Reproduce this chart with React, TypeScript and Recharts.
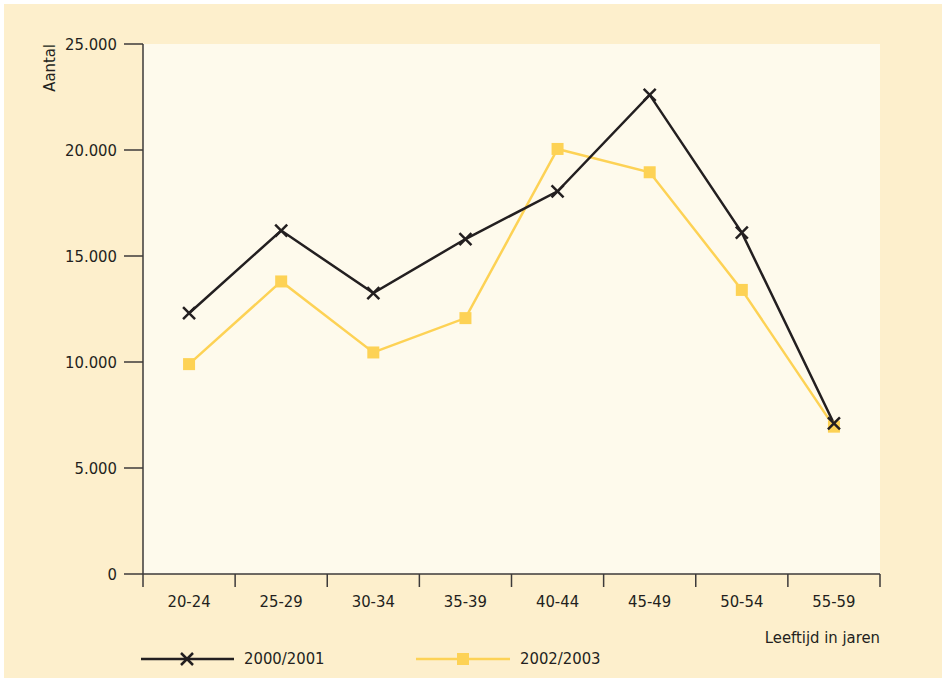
import { LineChart, Line, XAxis, YAxis, CartesianGrid } from 'recharts';

const ageGroups = ['20-24', '25-29', '30-34', '35-39', '40-44', '45-49', '50-54', '55-59'];
const series2000 = [12300, 16200, 13250, 15800, 18050, 22600, 16100, 7100];
const series2002 = [9900, 13800, 10450, 12070, 20050, 18950, 13400, 6950];
const yTicks = [0, 5000, 10000, 15000, 20000, 25000];

const NAME_A = '2000/2001';
const NAME_B = '2002/2003';
const BLACK = '#231f20';
const YELLOW = '#fdd255';
const AXIS = '#3d3a3a';
const FONT = '"DejaVu Sans Condensed", "Liberation Sans Narrow", sans-serif';
const FS = 16.5;

const W = 942;
const H = 678;
const PLOT_LEFT = 143;
const PLOT_RIGHT = 880;
const PLOT_TOP = 44;
const PLOT_BOTTOM = 574;
const BAND = (PLOT_RIGHT - PLOT_LEFT) / ageGroups.length;

const data = ageGroups.map((g, i) => ({ group: g, a: series2000[i], b: series2002[i] }));

const fmt = (v: number) => String(v).replace(/\B(?=(\d{3})+(?!\d))/g, '.');

function CrossDot(props: any) {
  const { cx, cy } = props;
  if (cx == null || cy == null) return null;
  const s = 6;
  return (
    <g stroke={BLACK} strokeWidth={2.5}>
      <line x1={cx - s} y1={cy - s} x2={cx + s} y2={cy + s} />
      <line x1={cx - s} y1={cy + s} x2={cx + s} y2={cy - s} />
    </g>
  );
}

function SquareDot(props: any) {
  const { cx, cy } = props;
  if (cx == null || cy == null) return null;
  return <rect x={cx - 6} y={cy - 6} width={12} height={12} fill={YELLOW} />;
}

function XTick(props: any) {
  const { x, y, payload, index } = props;
  const last = index === ageGroups.length - 1;
  return (
    <g>
      <line x1={x - BAND / 2} y1={y} x2={x - BAND / 2} y2={y + 13} stroke={AXIS} strokeWidth={1.5} />
      {last && <line x1={x + BAND / 2} y1={y} x2={x + BAND / 2} y2={y + 13} stroke={AXIS} strokeWidth={1.5} />}
      <text x={x} y={y + 27} textAnchor="middle" dominantBaseline="central" fill={BLACK} fontSize={FS} fontFamily={FONT}>
        {payload.value}
      </text>
      {last && (
        <text x={x + BAND / 2} y={y + 63} textAnchor="end" dominantBaseline="central" fill={BLACK} fontSize={FS} fontFamily={FONT}>
          Leeftijd in jaren
        </text>
      )}
    </g>
  );
}

function YLabel() {
  return (
    <text x={49} y={PLOT_TOP} transform={`rotate(-90 49 ${PLOT_TOP})`} textAnchor="end" dominantBaseline="central" fill={BLACK} fontSize={FS} fontFamily={FONT}>
      Aantal
    </text>
  );
}

function LegendRow() {
  const textStyle = { position: 'absolute' as const, top: 648, fontSize: FS, fontFamily: FONT, color: BLACK, lineHeight: '22px' };
  return (
    <>
      <svg style={{ position: 'absolute', left: 0, top: 0 }} width={W} height={H} pointerEvents="none">
        <line x1={141} y1={659} x2={234} y2={659} stroke={BLACK} strokeWidth={2.5} />
        <CrossDot cx={187} cy={659} />
        <line x1={416} y1={659} x2={510} y2={659} stroke={YELLOW} strokeWidth={2.5} />
        <SquareDot cx={463} cy={659} />
      </svg>
      <div style={{ ...textStyle, left: 244 }}>{NAME_A}</div>
      <div style={{ ...textStyle, left: 520 }}>{NAME_B}</div>
    </>
  );
}

export default function App() {
  return (
    <div style={{ position: 'fixed', left: 0, top: 0, width: W, height: H, background: '#ffffff', overflow: 'hidden' }}>
      <div style={{ position: 'absolute', left: 4, top: 4, right: 0, bottom: 0, background: '#fdefcc' }} />
      <div style={{ position: 'absolute', left: 0, top: 0 }}>
        <LineChart width={W} height={H} data={data} margin={{ top: PLOT_TOP, right: W - PLOT_RIGHT, bottom: 0, left: 0 }}>
          <CartesianGrid horizontal={false} vertical={false} fill="#fefaec" />
          <XAxis
            dataKey="group"
            height={H - PLOT_BOTTOM}
            padding={{ left: BAND / 2, right: BAND / 2 }}
            tickLine={false}
            tickSize={0}
            tickMargin={0}
            interval={0}
            axisLine={{ stroke: AXIS, strokeWidth: 1.5 }}
            tick={<XTick />}
          />
          <YAxis
            width={PLOT_LEFT}
            domain={[0, 25000]}
            ticks={yTicks}
            interval={0}
            tickFormatter={fmt}
            tickSize={19}
            tickMargin={7}
            axisLine={{ stroke: AXIS, strokeWidth: 1.5 }}
            tickLine={{ stroke: AXIS, strokeWidth: 1.5 }}
            tick={{ fill: BLACK, fontSize: FS, fontFamily: FONT }}
            label={<YLabel />}
          />
          <Line dataKey="b" name={NAME_B} stroke={YELLOW} strokeWidth={2.5} dot={<SquareDot />} activeDot={false} isAnimationActive={false} />
          <Line dataKey="a" name={NAME_A} stroke={BLACK} strokeWidth={2.5} dot={<CrossDot />} activeDot={false} isAnimationActive={false} />
        </LineChart>
      </div>
      <LegendRow />
    </div>
  );
}
